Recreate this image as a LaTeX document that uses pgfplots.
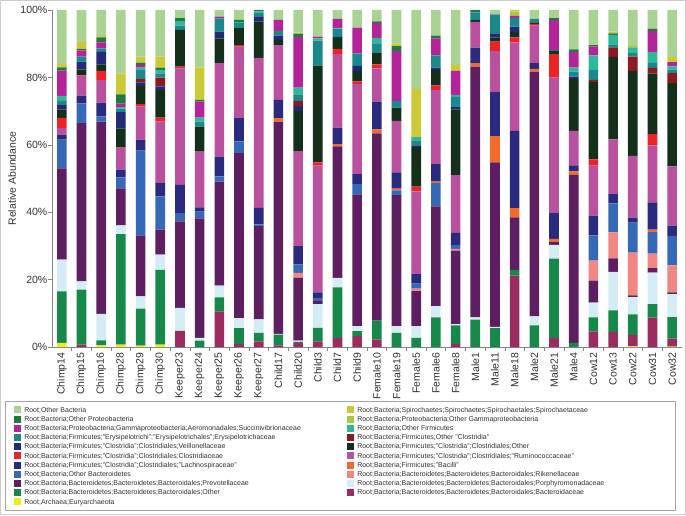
\documentclass[border=0pt]{standalone}
\usepackage{pgfplots}
\usepackage{pgfplotstable}
\usepackage{fontspec}
\setmainfont{Liberation Sans}
\pgfplotsset{compat=1.18}

\definecolor{cA}{HTML}{F4EA1B}
\definecolor{cBd}{HTML}{9B2C5F}
\definecolor{cOBd}{HTML}{15884A}
\definecolor{cPo}{HTML}{D4ECF4}
\definecolor{cPr}{HTML}{5D1F61}
\definecolor{cRi}{HTML}{F28683}
\definecolor{cOBt}{HTML}{3568B7}
\definecolor{cBa}{HTML}{F26B2A}
\definecolor{cLa}{HTML}{2A2B7E}
\definecolor{cRu}{HTML}{B9519E}
\definecolor{cCl}{HTML}{EC2227}
\definecolor{cCO}{HTML}{14301B}
\definecolor{cVe}{HTML}{232A78}
\definecolor{cOC}{HTML}{8B1B1E}
\definecolor{cEr}{HTML}{1B898B}
\definecolor{cOF}{HTML}{2EB898}
\definecolor{cSu}{HTML}{B4239A}
\definecolor{cOG}{HTML}{A8CB3B}
\definecolor{cOP}{HTML}{1E7A3E}
\definecolor{cSp}{HTML}{CBC935}
\definecolor{cOB}{HTML}{AAD293}
\definecolor{axgray}{HTML}{868686}

\pgfplotstableread{
x  A   Bd   OBd  Po   Pr   Ri   OBt  Ba   La   Ru   Cl   CO   Ve   OC   Er   OF   Su   OG   OP   Sp   OB
0  1.2 0    15.3 9.4  27.1 0    8.5  0    1.5  2    3    2.5  1.5  0    1    1.5  7.5  0    1    1    16
1  0   0.7  16.3 2.5  46.9 0    5.9  0    2.3  5.9  0.2  1.7  2.3  0    1.5  0    1.8  0    0.5  2    9.5
2  0.5 0    1.5  7.8  57.1 0    1.5  0    4.1  6.7  2.7  2    3.7  0    1    0    1.8  0    1.5  0.4  7.7
3  0.7 0    32.8 2.6  11   0    3.2  0    2.3  6.4  0.2  5.7  4.8  0    1    0.5  1    0    2.8  6.2  18.8
4  0.4 0    11   3.6  18.1 0    25.2 0    3.2  9.8  0.8  5.4  1    1    2.9  0.5  0.8  0    0.7  1.8  13.8
5  0.7 0    22.2 4.5  7.4  0    9.9  0    3.9  18.3 1.2  8.2  1    2.6  1.3  1    0    0    0.7  3.3  13.8
6  0   4.8  0    6.8  25.7 0    2.4  0    8.4  34.6 0.5  10.9 0    0    1.3  1.4  0    0    0.8  0    2.4
7  0   0    1.9  0.8  35.5 0    2    0    1.2  16.6 0    7.4  0    0    1.5  1.2  4.7  0    0.5  9.6  17.1
8  0   10.6 4.1  3.5  30.9 0    1.5  0    5.9  27.7 0    7.4  2    0    3.9  0    0.5  0    0    0    2
9  0   0.9  4.7  3    48.9 0    3.5  0    6.9  21.2 0.5  5    0    0    1.5  0.3  0    0    0.7  0    2.9
10 0   1.7  2.5  4    27.7 0    0.5  0    4.9  44.5 0    10.8 1.5  0    1    0.5  0    0    0.4  0    0
11 0   0.5  3.2  0.2  63   0    0    1    5.4  16.3 0    1.5  1.3  0    1.4  0    3.3  0    0    0    2.9
12 0   1.2  0.3  0.4  18.6 1.5  2.5  0    5.4  28.2 0    11.9 1.5  1.5  2    2    15   0    1    0.3  6.7
13 0   1.7  4    7    1    0    0.8  0    1.7  37.6 1    28.7 0    0    7.4  0.7  0.5  0    0    0    7.9
14 0   2.7  15   2.8  39   0    0    0.7  4.9  21.8 1.6  3.2  0.3  0    2.5  0.2  2.7  0    0    0    2.6
15 0   3.2  1.5  1.5  39.1 0    3    0    3    26.7 0.8  3.1  1.5  0    3.7  0    7.7  0    0    0    5.2
16 0   2.2  5.6  0    55.6 0    0    1.2  8.2  9.9  1.2  3.3  0    0    2.7  1.8  4.4  0    0.5  0    3.4
17 0   0    4.2  2    38.9 0    1.4  0.5  4.8  15.3 0    3.9  0    0    2    0    14.8 0    1.5  0.7  10
18 0   0    2.7  3.5  10.4 0.7  1.5  0    2.8  24.6 1.4  11.7 0.5  0    1.5  1    0    0    0    14.3 23.4
19 0   0    8.8  3.3  29.6 0    6.9  0.5  5.2  22   1.3  4.6  0.7  0    3.6  0    5.1  0    0.8  0    7.6
20 0   0.9  5.5  0.4  21.8 0.5  1.1  0    3.7  17.1 0    19.5 0.7  0    3    0.6  7.1  0    0    1.8  16.3
21 0   0    8.1  0.7  74.4 0    0    1    4.6  7.7  0    0.5  0    0    2.3  0    0    0    0.7  0    0
22 0   0    5.6  0.4  48.8 0    0    7.8  13   12.2 2.8  1.2  1.3  0    5.6  0    0    0    0    0    1.3
23 0   21.2 1.7  0    15.6 0    0    2.7  22.9 26.3 1.5  1.5  1.7  0    2.5  0    0.7  1.3  0    0.4  0
24 0   0    6.4  2.7  72.6 0    0    0.8  1.7  11.2 0.5  0.4  0    0    1.1  0    0    0    0    0    2.6
25 0   2.7  23.5 4.1  0.8  0    0    1    7.6  40.2 7    1    0    0    0.3  0    8.9  0    0.5  0    2.4
26 0   0    1.2  0    49.9 0    0    1    1.8  10.2 0    15.4 0.7  0    1.5  1.2  4.7  0    0.7  0    11.7
27 0   4.6  4.2  4.4  6.5  5.9  7.5  0    5.9  14.8 1.9  22.9 0    0.7  2.9  4.3  2.6  0    0.5  0    10.4
28 0   4.5  6.4  11.4 4    7.7  8.6  0    2.8  16.2 0    24.5 0    2.8  0.7  3    0    0    0.5  0.5  6.4
29 0.2 3.3  6.2  5.1  0.5  12.7 8.9  0    1.5  18.3 0    25.2 0    4.3  1    1.7  0    0.4  0    0.3  10.4
30 0   8.7  4    9.4  1.3  4.3  6.4  0.7  8.1  16.9 3.4  17.9 0    1.7  1.5  3.3  6.1  0    0.8  0    5.5
31 0.1 2.4  6.4  6.8  0.5  8    8.8  0    3    17.6 0    24.7 0    3    1    1    1.2  0    0    1.5  14
}\data

\newcommand{\LL}[1]{\addlegendentry{\makebox[320pt][l]{#1}}}
\newcommand{\LR}[1]{\addlegendentry{\makebox[306pt][l]{#1}}}

\begin{document}
\begin{tikzpicture}
\useasboundingbox (0pt,0pt) rectangle (686pt,515pt);
\draw[black!20, line width=0.8pt] (0.6pt,0.6pt) rectangle (685.4pt,514.4pt);
\begin{axis}[
  at={(52pt,168pt)}, anchor=south west,
  scale only axis, width=630pt, height=337pt,
  ybar stacked, bar width=9.6pt,
  xmin=-0.5, xmax=31.5, ymin=0, ymax=100,
  axis lines=left, axis line style={-, draw=axgray, line width=0.6pt},
  xtick={0,...,31},
  xticklabels={Chimp14,Chimp15,Chimp16,Chimp28,Chimp29,Chimp30,Keeper23,Keeper24,Keeper25,Keeper26,Keeper27,Child17,Child20,Child3,Child7,Child9,Female10,Female19,Female5,Female6,Female8,Male1,Male11,Male18,Male2,Male21,Male4,Cow12,Cow13,Cow22,Cow31,Cow32},
  minor x tick num=1,
  major x tick style={draw=none},
  minor x tick style={draw=axgray, line width=0.6pt},
  ytick={0,20,40,60,80,100},
  yticklabel={\pgfmathprintnumber{\tick}\%},
  /pgf/number format/assume math mode=true,
  tick align=outside, major tick length=3.5pt, minor tick length=3.5pt,
  ytick style={draw=axgray, line width=0.6pt},
  x tick label style={rotate=90, anchor=east, font=\fontsize{10.5}{12}\selectfont, text=black!80, inner sep=2pt},
  y tick label style={font=\fontsize{10.5}{12}\selectfont, text=black!80, inner sep=1pt},
  ylabel={Relative Abundance},
  every axis y label/.style={at={([xshift=-40pt]axis description cs:0,0.5)}, rotate=90, anchor=center, font=\fontsize{10.5}{12}\selectfont, text=black!80},
  legend columns=2,
  legend cell align=left,
  legend image code/.code={\fill[#1] (0pt,-3.5pt) rectangle (7pt,3.5pt);},
  legend style={at={([xshift=-47pt,yshift=-54pt]axis description cs:0,0)}, anchor=north west,
    draw=black!35, line width=0.6pt, inner xsep=9pt, inner ysep=4pt, row sep=0pt, column sep=0pt,
    font=\fontsize{7}{8}\selectfont, text=black!80,
    nodes={inner xsep=3pt, inner ysep=0.75pt, text height=6pt, text depth=1.7pt, anchor=west}},
]
\addplot[fill=cA, draw=none, forget plot] table[x=x,y=A]{\data};
\addplot[fill=cBd, draw=none, forget plot] table[x=x,y=Bd]{\data};
\addplot[fill=cOBd, draw=none, forget plot] table[x=x,y=OBd]{\data};
\addplot[fill=cPo, draw=none, forget plot] table[x=x,y=Po]{\data};
\addplot[fill=cPr, draw=none, forget plot] table[x=x,y=Pr]{\data};
\addplot[fill=cRi, draw=none, forget plot] table[x=x,y=Ri]{\data};
\addplot[fill=cOBt, draw=none, forget plot] table[x=x,y=OBt]{\data};
\addplot[fill=cBa, draw=none, forget plot] table[x=x,y=Ba]{\data};
\addplot[fill=cLa, draw=none, forget plot] table[x=x,y=La]{\data};
\addplot[fill=cRu, draw=none, forget plot] table[x=x,y=Ru]{\data};
\addplot[fill=cCl, draw=none, forget plot] table[x=x,y=Cl]{\data};
\addplot[fill=cCO, draw=none, forget plot] table[x=x,y=CO]{\data};
\addplot[fill=cVe, draw=none, forget plot] table[x=x,y=Ve]{\data};
\addplot[fill=cOC, draw=none, forget plot] table[x=x,y=OC]{\data};
\addplot[fill=cEr, draw=none, forget plot] table[x=x,y=Er]{\data};
\addplot[fill=cOF, draw=none, forget plot] table[x=x,y=OF]{\data};
\addplot[fill=cSu, draw=none, forget plot] table[x=x,y=Su]{\data};
\addplot[fill=cOG, draw=none, forget plot] table[x=x,y=OG]{\data};
\addplot[fill=cOP, draw=none, forget plot] table[x=x,y=OP]{\data};
\addplot[fill=cSp, draw=none, forget plot] table[x=x,y=Sp]{\data};
\addplot[fill=cOB, draw=none, forget plot] table[x=x,y=OB]{\data};

\addlegendimage{fill=cOB, draw=none}\LL{Root;Other Bacteria}
\addlegendimage{fill=cSp, draw=none}\LR{Root;Bacteria;Spirochaetes;Spirochaetes;Spirochaetales;Spirochaetaceae}
\addlegendimage{fill=cOP, draw=none}\LL{Root;Bacteria;Other Proteobacteria}
\addlegendimage{fill=cOG, draw=none}\LR{Root;Bacteria;Proteobacteria;Other Gammaproteobacteria}
\addlegendimage{fill=cSu, draw=none}\LL{Root;Bacteria;Proteobacteria;Gammaproteobacteria;Aeromonadales;Succinivibrionaceae}
\addlegendimage{fill=cOF, draw=none}\LR{Root;Bacteria;Other Firmicutes}
\addlegendimage{fill=cEr, draw=none}\LL{Root;Bacteria;Firmicutes;"Erysipelotrichi";"Erysipelotrichales";Erysipelotrichaceae}
\addlegendimage{fill=cOC, draw=none}\LR{Root;Bacteria;Firmicutes;Other "Clostridia"}
\addlegendimage{fill=cVe, draw=none}\LL{Root;Bacteria;Firmicutes;"Clostridia";Clostridiales;Veillonellaceae}
\addlegendimage{fill=cCO, draw=none}\LR{Root;Bacteria;Firmicutes;"Clostridia";Clostridiales;Other}
\addlegendimage{fill=cCl, draw=none}\LL{Root;Bacteria;Firmicutes;"Clostridia";Clostridiales;Clostridiaceae}
\addlegendimage{fill=cRu, draw=none}\LR{Root;Bacteria;Firmicutes;"Clostridia";Clostridiales;"Ruminococcaceae"}
\addlegendimage{fill=cLa, draw=none}\LL{Root;Bacteria;Firmicutes;"Clostridia";Clostridiales;"Lachnospiraceae"}
\addlegendimage{fill=cBa, draw=none}\LR{Root;Bacteria;Firmicutes;"Bacilli"}
\addlegendimage{fill=cOBt, draw=none}\LL{Root;Bacteria;Other Bacteroidetes}
\addlegendimage{fill=cRi, draw=none}\LR{Root;Bacteria;Bacteroidetes;Bacteroidetes;Bacteroidales;Rikenellaceae}
\addlegendimage{fill=cPr, draw=none}\LL{Root;Bacteria;Bacteroidetes;Bacteroidetes;Bacteroidales;Prevotellaceae}
\addlegendimage{fill=cPo, draw=none}\LR{Root;Bacteria;Bacteroidetes;Bacteroidetes;Bacteroidales;Porphyromonadaceae}
\addlegendimage{fill=cOBd, draw=none}\LL{Root;Bacteria;Bacteroidetes;Bacteroidetes;Bacteroidales;Other}
\addlegendimage{fill=cBd, draw=none}\LR{Root;Bacteria;Bacteroidetes;Bacteroidetes;Bacteroidales;Bacteroidaceae}
\addlegendimage{fill=cA, draw=none}\LL{Root;Archaea;Euryarchaeota}
\end{axis}
\end{tikzpicture}
\end{document}
